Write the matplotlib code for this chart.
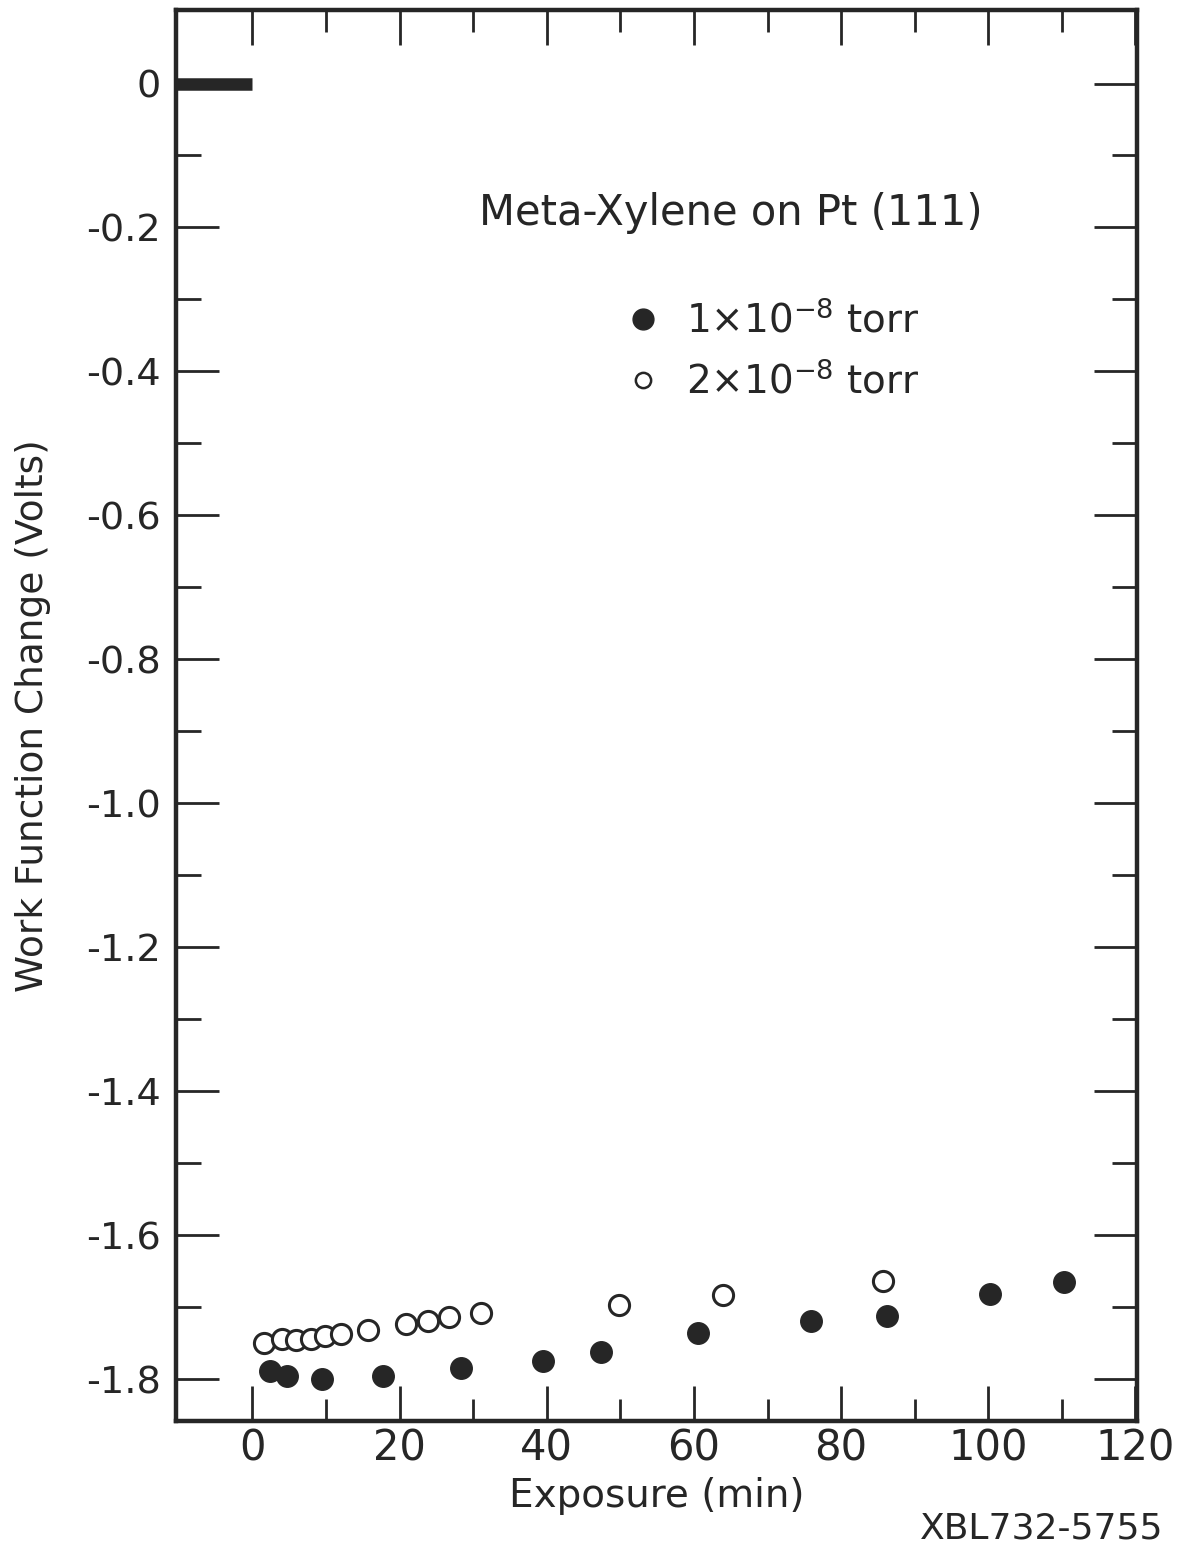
import numpy as np
import matplotlib.pyplot as plt
from matplotlib.lines import Line2D
from matplotlib.ticker import FixedLocator

plt.rcParams['font.family'] = ['DejaVu Sans']
plt.rcParams['axes.unicode_minus'] = False

# Data
# 1e-8 torr (filled)
exp_low = [2.4, 4.7, 9.5, 17.7, 28.3, 39.5, 47.3, 60.5, 75.9, 86.2, 100.2, 110.3]
wf_low = [-1.789, -1.796, -1.800, -1.796, -1.784, -1.775, -1.762, -1.736,
          -1.719, -1.712, -1.682, -1.665]
# 2e-8 torr (open)
exp_high = [1.6, 4.0, 5.9, 7.9, 9.9, 12.0, 15.7, 20.8, 23.8, 26.7, 31.0,
            49.8, 63.9, 85.7]
wf_high = [-1.749, -1.744, -1.746, -1.744, -1.740, -1.737, -1.731, -1.723,
           -1.719, -1.713, -1.708, -1.697, -1.683, -1.664]
# initial level before exposure
base_x = [-10.4, 0]
base_y = [0, 0]

x_labels = [0, 20, 40, 60, 80, 100, 120]
y_labels = [0, -0.2, -0.4, -0.6, -0.8, -1.0, -1.2, -1.4, -1.6, -1.8]

ink = '#262626'

fig = plt.figure(figsize=(11.81, 15.51), dpi=100)
ax = fig.add_axes([0.149, 0.0838, 0.8137, 0.9097])

ax.plot(base_x, base_y, color=ink, lw=9, solid_capstyle='butt')
ax.plot(exp_low, wf_low, 'o', ms=15.5, color=ink, mec=ink)
ax.plot(exp_high, wf_high, 'o', ms=14.5, mfc='white', mec=ink, mew=2.2)

ax.set_xlim(-10.4, 120.2)
ax.set_ylim(-1.858, 0.102)

ax.xaxis.set_major_locator(FixedLocator(x_labels))
ax.xaxis.set_minor_locator(FixedLocator(list(range(10, 120, 20))))
ax.yaxis.set_major_locator(FixedLocator(y_labels))
ax.yaxis.set_minor_locator(FixedLocator([-0.1 - 0.2 * i for i in range(9)]))

ax.set_xticklabels([str(v) for v in x_labels])
ax.set_yticklabels(['0'] + ['%.1f' % v for v in y_labels[1:]])

ax.tick_params(axis='x', which='major', direction='in', length=25, width=2,
               top=True, labelsize=30, pad=5, colors=ink)
ax.tick_params(axis='x', which='minor', direction='in', length=16, width=2,
               top=True, colors=ink)
ax.tick_params(axis='y', which='major', direction='in', length=31, width=2,
               right=True, labelsize=27.5, pad=11, colors=ink)
ax.tick_params(axis='y', which='minor', direction='in', length=18, width=2,
               right=True, colors=ink)
for s in ax.spines.values():
    s.set_linewidth(3.2)
    s.set_color(ink)

ax.set_xlabel('Exposure (min)', fontsize=28, color=ink)
ax.xaxis.set_label_coords(0.5, -0.04)
ax.set_ylabel('Work Function Change (Volts)', fontsize=27, color=ink)
ax.yaxis.set_label_coords(-0.13, 0.5)

ax.text(0.5775, 0.856, 'Meta-Xylene on Pt (111)', transform=ax.transAxes,
        ha='center', va='center', fontsize=30, color=ink)

handles = [
    Line2D([], [], ls='none', marker='o', ms=15, color=ink),
    Line2D([], [], ls='none', marker='o', ms=11, mfc='white', mec=ink, mew=1.8),
]
ax.legend(handles, ['1×10$^{\\mathrm{-8}}$ torr', '2×10$^{\\mathrm{-8}}$ torr'],
          loc='upper left', bbox_to_anchor=(0.446, 0.808), frameon=False,
          fontsize=28, handlelength=1.0, handletextpad=0.6, labelspacing=0.55,
          borderpad=0, labelcolor=ink)

fig.text(0.985, 0.0148, 'XBL732-5755', ha='right', va='center', fontsize=26,
         color=ink)

fig.savefig('out.png', dpi=100)
